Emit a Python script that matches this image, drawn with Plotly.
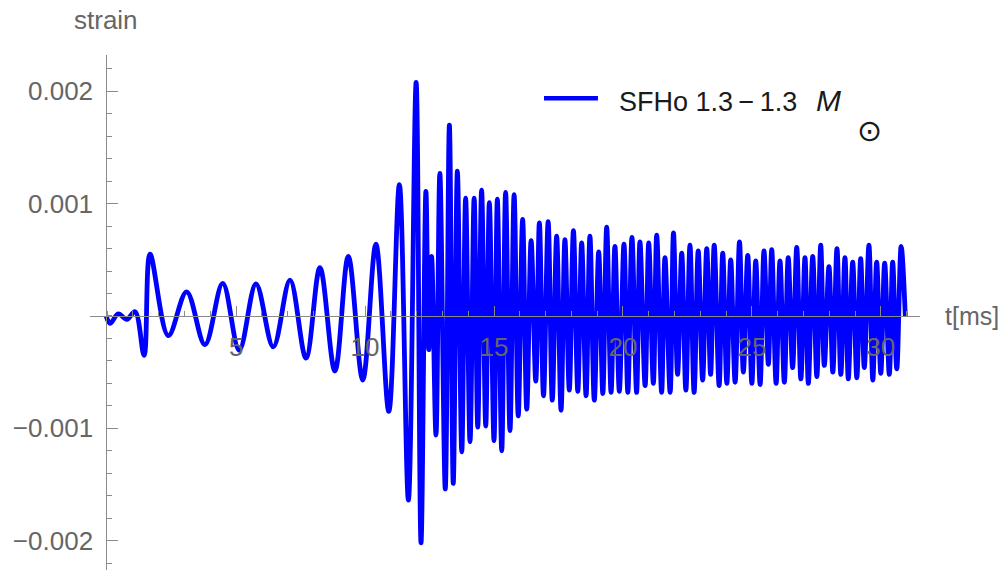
import plotly.graph_objects as go

# --- data: extrema of the strain waveform ---
t_ms = [
    -0.04, 0.11, 0.43, 0.76, 1.08, 1.43, 1.66, 2.37, 3.08, 3.79, 4.48, 5.12, 5.77, 6.44,
    7.09, 7.71, 8.25, 8.83, 9.35, 9.91, 10.42, 10.92, 11.33, 11.68, 11.98, 12.17,
    12.36, 12.47, 12.58, 12.75, 12.90, 13.11, 13.27, 13.42, 13.58, 13.75, 13.90, 14.07,
    14.23, 14.37, 14.52, 14.68, 14.82, 15.00, 15.13, 15.30, 15.45, 15.62, 15.78, 15.94,
    16.11, 16.27, 16.44, 16.62, 16.76, 16.92, 17.10, 17.26, 17.43, 17.60, 17.75, 17.92,
    18.08, 18.25, 18.40, 18.57, 18.72, 18.89, 19.06, 19.22, 19.37, 19.54, 19.69, 19.86,
    20.04, 20.19, 20.35, 20.53, 20.66, 20.86, 21.00, 21.18, 21.31, 21.50, 21.63, 21.83,
    21.96, 22.12, 22.28, 22.44, 22.60, 22.76, 22.92, 23.09, 23.25, 23.40, 23.54, 23.73,
    23.87, 24.03, 24.18, 24.35, 24.52, 24.67, 24.84, 25.00, 25.15, 25.32, 25.47, 25.64,
    25.77, 25.94, 26.09, 26.26, 26.41, 26.58, 26.74, 26.90, 27.06, 27.19, 27.36, 27.52,
    27.67, 27.81, 27.99, 28.14, 28.30, 28.45, 28.61, 28.74, 28.91, 29.07, 29.22, 29.36,
    29.54, 29.69, 29.84, 30.00, 30.15, 30.33, 30.46, 30.62, 30.79, 30.95,
]
strain = [
    0.0, -0.000065, 0.000018, -0.00003, 0.000038, -0.00035, 0.00055, -0.000175, 0.000215,
    -0.000255, 0.00029, -0.000305, 0.000285, -0.000275, 0.00032, -0.000375, 0.00043,
    -0.00049, 0.00053, -0.00057, 0.00064, -0.00085, 0.00117, -0.00164, 0.00208, -0.00202,
    0.00111, -0.0003, 0.00053, -0.00106, 0.00127, -0.00154, 0.0017, -0.00149, 0.00129,
    -0.00121, 0.00105, -0.00112, 0.00105, -0.00099, 0.00112, -0.00098, 0.00101, -0.00111,
    0.00104, -0.0012, 0.0011, -0.00102, 0.00108, -0.00089, 0.00086, -0.00083, 0.00067,
    -0.00058, 0.00083, -0.00071, 0.00084, -0.00075, 0.00071, -0.00084, 0.00068, -0.00066,
    0.00076, -0.00067, 0.00065, -0.00071, 0.00071, -0.00075, 0.00057, -0.00069, 0.00079,
    -0.00068, 0.00062, -0.00067, 0.00064, -0.00068, 0.0007, -0.00068, 0.00066, -0.00062,
    0.00065, -0.0006, 0.00072, -0.00068, 0.00052, -0.00068, 0.00074, -0.00052, 0.00056,
    -0.00066, 0.00063, -0.00068, 0.00058, -0.00057, 0.0006, -0.00052, 0.00063, -0.00062,
    0.00056, -0.0006, 0.0005, -0.00059, 0.00066, -0.0005, 0.00054, -0.0006, 0.00049,
    -0.00061, 0.00058, -0.00043, 0.00059, -0.0006, 0.00049, -0.00059, 0.00052, -0.00046,
    0.00061, -0.00056, 0.00052, -0.0006, 0.00053, -0.00054, 0.00063, -0.00044, 0.00044,
    -0.0005, 0.0006, -0.00052, 0.00052, -0.00056, 0.00048, -0.00055, 0.00051, -0.00046,
    0.00063, -0.00057, 0.00048, -0.00051, 0.00047, -0.00052, 0.00048, -0.00047, 0.00062,
    0.0,
]

x_tickvals = [5, 10, 15, 20, 25, 30]
y_tickvals = [-0.002, -0.001, 0.001, 0.002]
y_ticktext = ["\u22120.002", "\u22120.001", "0.001", "0.002"]
series_name = ("SFHo 1.3\u2009\u2212\u20091.3\u2002\u2009"
               "<span style='font-size:30px'><i>M</i></span>")
series_sub = "\u2299"

x_range = [-0.667, 31.52]
y_range = [-0.0022618, 0.002324]
y_axis_at = -0.035  # time where the vertical axis crosses

GRAY = "#8a8a8a"
LABEL = "#666666"
FONT = "Liberation Sans, Arial, sans-serif"

fig = go.Figure()
fig.add_trace(go.Scatter(
    x=t_ms, y=strain, mode="lines", showlegend=False,
    line=dict(color="#0000ff", width=4.8, shape="spline", smoothing=1.0),
))

xpos = (0 - y_range[0]) / (y_range[1] - y_range[0])
ypos = (y_axis_at - x_range[0]) / (x_range[1] - x_range[0])

fig.update_layout(
    width=1008, height=570,
    margin=dict(l=90, r=88, t=55, b=0),
    paper_bgcolor="white", plot_bgcolor="white",
    font=dict(family=FONT, size=26, color=LABEL),
    xaxis=dict(
        range=x_range, anchor="free", position=xpos,
        showline=True, linecolor=GRAY, linewidth=1,
        showgrid=False, zeroline=False,
        tickmode="array", tickvals=x_tickvals,
        ticks="inside", ticklen=10, tickwidth=1, tickcolor=GRAY,
        tickfont=dict(size=26, color=LABEL), ticklabelstandoff=8,
        minor=dict(dtick=1, tick0=0, ticks="inside", ticklen=5, tickwidth=1,
                   tickcolor=GRAY, showgrid=False),
    ),
    yaxis=dict(
        range=y_range, anchor="free", position=ypos,
        showline=True, linecolor=GRAY, linewidth=1,
        showgrid=False, zeroline=False,
        tickmode="array", tickvals=y_tickvals, ticktext=y_ticktext,
        ticks="inside", ticklen=11, tickwidth=1, tickcolor=GRAY,
        tickfont=dict(size=26, color=LABEL), ticklabelstandoff=8,
        minor=dict(dtick=0.0002, tick0=0, ticks="inside", ticklen=5, tickwidth=1,
                   tickcolor=GRAY, showgrid=False),
    ),
    annotations=[
        dict(text="strain", xref="paper", yref="paper", x=ypos, y=1.068,
             xanchor="center", yanchor="middle", showarrow=False,
             font=dict(size=26, color=LABEL, family=FONT)),
        dict(text="t[ms]", xref="paper", yref="y", x=1.0273, y=0,
             xanchor="left", yanchor="middle", showarrow=False,
             font=dict(size=25, color=LABEL, family=FONT)),
        dict(text=series_name, xref="paper", yref="paper", x=0.6353, y=0.912,
             xanchor="left", yanchor="middle", showarrow=False,
             font=dict(size=27, color="#1a1a1a", family=FONT)),
        dict(text=series_sub, xref="paper", yref="paper", x=(869 - 90) / 830,
             y=(570 - 130) / 515, xanchor="center", yanchor="middle", showarrow=False,
             font=dict(size=30, color="#1a1a1a", family="DejaVu Sans")),
    ],
    shapes=[
        dict(type="line", xref="paper", yref="paper", x0=0.547, x1=0.612,
             y0=0.916, y1=0.916, line=dict(color="#0000ff", width=4.5)),
    ],
)

fig.write_html("out.html")
